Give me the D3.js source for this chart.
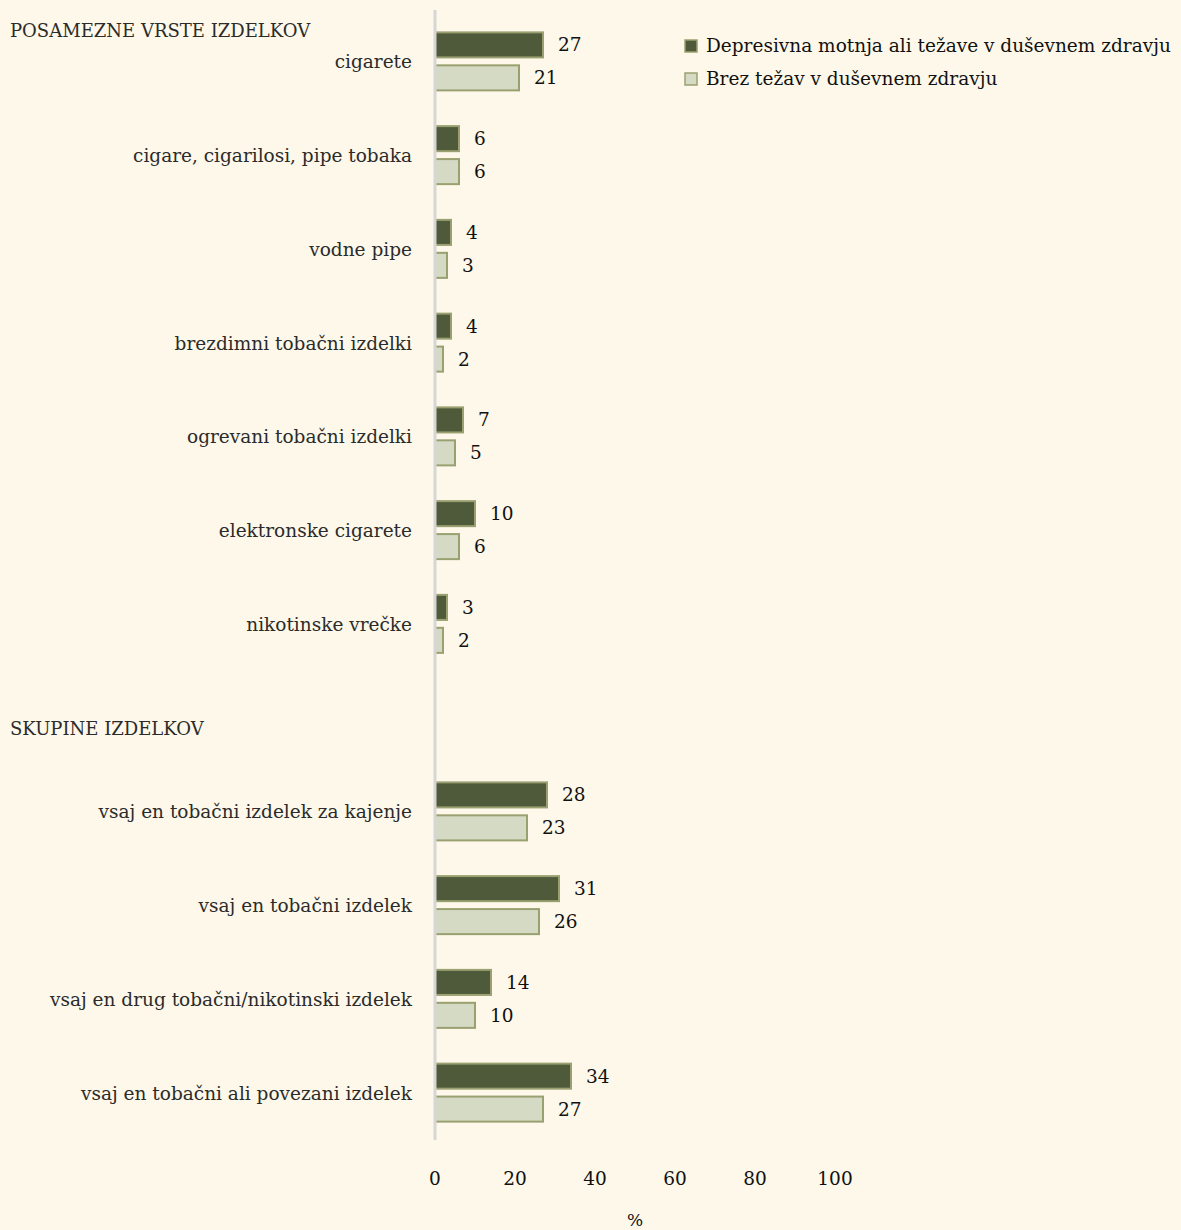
<!DOCTYPE html>
<html>
<head>
<meta charset="utf-8">
<script src="https://cdn.jsdelivr.net/npm/d3@7"></script>
<style>
  body { margin: 0; background: #fdf8e9; }
  svg { display: block; font-family: "DejaVu Serif", serif; }
</style>
</head>
<body>
<svg width="1181" height="1230"></svg>
<script>
// rows of the chart; the empty one is the gap between the two groups
var categories = [
  'cigarete',
  'cigare, cigarilosi, pipe tobaka',
  'vodne pipe',
  'brezdimni tobačni izdelki',
  'ogrevani tobačni izdelki',
  'elektronske cigarete',
  'nikotinske vrečke',
  '',
  'vsaj en tobačni izdelek za kajenje',
  'vsaj en tobačni izdelek',
  'vsaj en drug tobačni/nikotinski izdelek',
  'vsaj en tobačni ali povezani izdelek'
];
var depresivna = [27, 6, 4, 4, 7, 10, 3, null, 28, 31, 14, 34];
var brezTezav  = [21, 6, 3, 2, 5, 6, 2, null, 23, 26, 10, 27];
var seriesNames = ['Depresivna motnja ali težave v duševnem zdravju', 'Brez težav v duševnem zdravju'];
var headings = ['POSAMEZNE VRSTE IZDELKOV', 'SKUPINE IZDELKOV'];
var headingRows = [0, 7];
var xTicks = [0, 20, 40, 60, 80, 100];

var colors = ['#4f5a3a', '#d4dac3'];
var border = '#9aa070';
var fs = 18.5;

var svg = d3.select('svg');

var x = d3.scaleLinear().domain([0, 100]).range([435, 835]);
var y = d3.scaleBand().domain(d3.range(categories.length)).range([15, 1140]);
var y1 = d3.scaleBand().domain([0, 1]).range([-29.5, 28.5]).paddingInner(0.24);

var rows = categories.map(function(c, i) {
  return { name: c, i: i, values: [depresivna[i], brezTezav[i]] };
});

// category labels
svg.append('g').selectAll('text')
  .data(rows)
  .enter().append('text')
  .attr('x', 412)
  .attr('y', function(d) { return y(d.i) + y.bandwidth() / 2; })
  .attr('dy', '0.35em')
  .attr('text-anchor', 'end')
  .attr('font-size', fs)
  .attr('fill', '#2b2b2b')
  .text(function(d) { return d.name; });

// group headings
svg.append('g').selectAll('text')
  .data(headings)
  .enter().append('text')
  .attr('x', 10)
  .attr('y', function(d, i) {
    var c = y(headingRows[i]) + y.bandwidth() / 2;
    return i === 0 ? c - 31 : c + 11;
  })
  .attr('dy', '0.35em')
  .attr('font-size', 18)
  .attr('fill', '#2b2b2b')
  .text(function(d) { return d; });

// bars
var group = svg.append('g').selectAll('g')
  .data(rows.filter(function(d) { return d.values[0] != null; }))
  .enter().append('g')
  .attr('transform', function(d) { return 'translate(0,' + (y(d.i) + y.bandwidth() / 2) + ')'; });

group.selectAll('rect')
  .data(function(d) { return d.values; })
  .enter().append('rect')
  .attr('x', x(0))
  .attr('y', function(d, j) { return y1(j); })
  .attr('width', function(d) { return x(d) - x(0); })
  .attr('height', y1.bandwidth())
  .attr('fill', function(d, j) { return colors[j]; })
  .attr('stroke', border)
  .attr('stroke-width', 2);

group.selectAll('text')
  .data(function(d) { return d.values; })
  .enter().append('text')
  .attr('x', function(d) { return x(d) + 15; })
  .attr('y', function(d, j) { return y1(j) + y1.bandwidth() / 2; })
  .attr('dy', '0.35em')
  .attr('font-size', fs)
  .attr('fill', '#111')
  .text(function(d) { return d; });

// vertical axis line
svg.append('line')
  .attr('x1', x(0)).attr('x2', x(0))
  .attr('y1', 10).attr('y2', 1140)
  .attr('stroke', '#d6d6d6')
  .attr('stroke-width', 3);

// x tick labels
svg.append('g').selectAll('text')
  .data(xTicks)
  .enter().append('text')
  .attr('x', function(d) { return x(d); })
  .attr('y', 1179)
  .attr('dy', '0.35em')
  .attr('text-anchor', 'middle')
  .attr('font-size', fs)
  .attr('fill', '#111')
  .text(function(d) { return d; });

svg.append('text')
  .attr('x', x(50))
  .attr('y', 1220)
  .attr('dy', '0.35em')
  .attr('text-anchor', 'middle')
  .attr('font-size', 17)
  .attr('fill', '#111')
  .text('%');

// legend
var legend = svg.append('g').selectAll('g')
  .data(seriesNames)
  .enter().append('g')
  .attr('transform', function(d, i) { return 'translate(685,' + (46 + i * 33) + ')'; });

legend.append('rect')
  .attr('x', 0).attr('y', -6)
  .attr('width', 12).attr('height', 12)
  .attr('fill', function(d, i) { return colors[i]; })
  .attr('stroke', border)
  .attr('stroke-width', 1.5);

legend.append('text')
  .attr('x', 21)
  .attr('dy', '0.35em')
  .attr('font-size', fs)
  .attr('fill', '#111')
  .text(function(d) { return d; });
</script>
</body>
</html>
